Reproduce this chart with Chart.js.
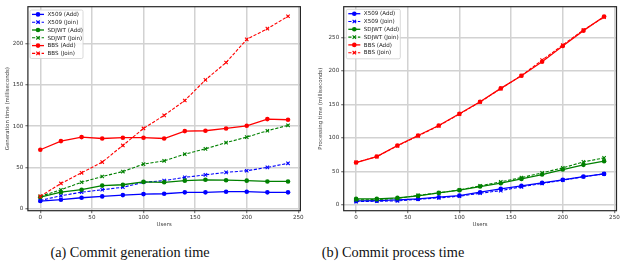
<!DOCTYPE html>
<html>
<head>
<meta charset="utf-8">
<script src="https://cdn.jsdelivr.net/npm/chart.js@4/dist/chart.umd.min.js"></script>
<style>
  html, body { margin: 0; padding: 0; background: #fff; width: 626px; height: 267px; overflow: hidden; }
  .wrap { position: absolute; top: 0; width: 313px; height: 232px; }
  .cap { position: absolute; top: 244px; font-family: "Liberation Serif", "DejaVu Serif", serif; font-size: 14.3px; color: #111; white-space: nowrap; transform: translateX(-50%); }
</style>
</head>
<body>
<div class="wrap" style="left:0"><canvas id="c1" width="313" height="232"></canvas></div>
<div class="wrap" style="left:313px"><canvas id="c2" width="313" height="232"></canvas></div>
<div class="cap" style="left:130px">(a) Commit generation time</div>
<div class="cap" style="left:393px">(b) Commit process time</div>
<script>
const users = [0, 20, 40, 60, 80, 100, 120, 140, 160, 180, 200, 220, 240];
const seriesNames = ["X509 (Add)", "X509 (Join)", "SDJWT (Add)", "SDJWT (Join)", "BBS (Add)", "BBS (Join)"];
const xTicks = [0, 50, 100, 150, 200, 250];
const genYTicks = [0, 50, 100, 150, 200];
const procYTicks = [0, 50, 100, 150, 200, 250];

// (a) Commit generation time (ms)
const genX509Add   = [9.3, 10.9, 13.3, 14.9, 16.5, 17.7, 18.1, 19.8, 19.8, 20.6, 20.6, 19.8, 19.8];
const genX509Join  = [10, 15.7, 20, 23, 26, 32, 34, 38, 41, 44, 46, 50, 55];
const genSdjwtAdd  = [14, 20, 23, 28, 29, 32.5, 32, 34, 35, 34.5, 34, 33, 33];
const genSdjwtJoin = [15, 23, 32, 39, 45, 54, 58, 66, 72.5, 80, 86.7, 94.4, 101];
const genBbsAdd    = [71.4, 81.9, 86.7, 85, 86, 86, 85, 94, 94.4, 97.2, 100.4, 108.5, 107.7];
const genBbsJoin   = [15, 30.6, 43.5, 56.5, 76.6, 97.2, 113, 131, 156, 177, 205, 218, 233];

// (b) Commit process time (ms)
const procX509Add   = [6, 6.5, 7.5, 9, 11.5, 14, 19, 24, 28.4, 32.9, 37.4, 42.3, 46.3];
const procX509Join  = [5, 5.5, 6, 8.5, 10.5, 13, 17.4, 21.4, 27, 32, 37, 42, 46.3];
const procSdjwtAdd  = [9, 9, 10.5, 13.5, 18, 22, 27.4, 32.4, 38.8, 45.3, 52.8, 59.8, 65.2];
const procSdjwtJoin = [7.5, 8, 9.5, 14.4, 18, 22.4, 28.4, 34.4, 40.8, 47.8, 55.3, 64.2, 70.2];
const procBbsAdd    = [63.2, 72.2, 88.6, 103.6, 118.5, 136, 153.9, 173.8, 192.7, 213.6, 237, 260, 281];
const procBbsJoin   = [63.5, 72, 88, 103, 118, 135.5, 153.5, 173.5, 193, 216, 238.5, 261, 280];

const FONT = "DejaVu Sans";
const colors = ["#0000ff", "#0000ff", "#008000", "#008000", "#ff0000", "#ff0000"];
const DASH = [3.2, 1.6];

function makeDatasets(arrs) {
  return arrs.map((vals, i) => {
    const join = i % 2 === 1;
    return {
      label: seriesNames[i],
      data: users.map((u, k) => ({ x: u, y: vals[k] })),
      borderColor: colors[i],
      backgroundColor: colors[i],
      borderWidth: join ? 1.1 : 1.3,
      borderDash: join ? DASH : [],
      pointStyle: join ? "crossRot" : "circle",
      pointRadius: join ? 2.4 : 2.3,
      pointBorderWidth: join ? 1.1 : 0,
      pointBackgroundColor: colors[i],
      pointBorderColor: colors[i],
      tension: 0,
      order: -i
    };
  });
}

const framePlugin = {
  id: "frame",
  afterDatasetsDraw(chart) {
    const a = chart.chartArea, ctx = chart.ctx;
    ctx.save();
    ctx.strokeStyle = "#262626";
    ctx.lineWidth = 1.2;
    ctx.strokeRect(a.left, a.top, a.right - a.left, a.bottom - a.top);
    ctx.restore();
  }
};

const mplLegend = {
  id: "mplLegend",
  afterDraw(chart, args, opts) {
    const a = chart.chartArea, ctx = chart.ctx;
    const bx = a.left + opts.dx, by = a.top + opts.dy, bw = opts.w, bh = opts.h;
    ctx.save();
    ctx.fillStyle = "rgba(255,255,255,0.85)";
    ctx.strokeStyle = "#d0d0d0";
    ctx.lineWidth = 0.8;
    ctx.beginPath();
    if (ctx.roundRect) ctx.roundRect(bx, by, bw, bh, 1.5); else ctx.rect(bx, by, bw, bh);
    ctx.fill();
    ctx.stroke();
    chart.data.datasets.forEach((ds, i) => {
      const y = by + 4.4 + i * 7.8;
      ctx.strokeStyle = ds.borderColor;
      ctx.lineWidth = ds.borderWidth;
      ctx.setLineDash(ds.borderDash);
      ctx.beginPath();
      ctx.moveTo(bx + 2, y);
      ctx.lineTo(bx + 14, y);
      ctx.stroke();
      ctx.setLineDash([]);
      ctx.fillStyle = ds.borderColor;
      ctx.strokeStyle = ds.borderColor;
      ctx.lineWidth = ds.pointBorderWidth;
      Chart.helpers.drawPoint(ctx, {
        pointStyle: ds.pointStyle, radius: ds.pointRadius, rotation: 0,
        borderWidth: ds.pointBorderWidth
      }, bx + 8, y);
      ctx.fillStyle = "#222";
      ctx.font = "5.6px '" + FONT + "'";
      ctx.textBaseline = "middle";
      ctx.textAlign = "left";
      ctx.fillText(ds.label, bx + 17.5, y + 0.3);
    });
    ctx.restore();
  }
};

function makeChart(id, arrs, yTitle, yMin, yMax, yTicks, yWidth, padRight, legendPos) {
  return new Chart(document.getElementById(id), {
    type: "line",
    data: { datasets: makeDatasets(arrs) },
    plugins: [framePlugin, mplLegend],
    options: {
      responsive: false,
      animation: false,
      events: [],
      layout: { padding: { left: 0, right: padRight, top: 6.7, bottom: 0 } },
      plugins: {
        legend: { display: false },
        tooltip: { enabled: false },
        mplLegend: legendPos
      },
      scales: {
        x: {
          type: "linear",
          min: -12, max: 252,
          afterBuildTicks(s) { s.ticks = xTicks.map(v => ({ value: v })); },
          afterFit(s) { s.height = 21.3; },
          grid: { color: "#d2d2d2", lineWidth: 1.5, drawTicks: true, tickLength: 2.5, tickColor: "#333", tickWidth: 0.8 },
          border: { display: false },
          ticks: { font: { family: FONT, size: 5.6 }, color: "#333", padding: 1, maxRotation: 0, autoSkip: false },
          title: { display: true, text: "Users", font: { family: FONT, size: 5.4 }, color: "#444", padding: { top: 0, bottom: 4.5 } }
        },
        y: {
          type: "linear",
          min: yMin, max: yMax,
          afterBuildTicks(s) { s.ticks = yTicks.map(v => ({ value: v })); },
          afterFit(s) { s.width = yWidth; },
          grid: { color: "#d2d2d2", lineWidth: 1.5, drawTicks: true, tickLength: 2.5, tickColor: "#333", tickWidth: 0.8 },
          border: { display: false },
          ticks: { font: { family: FONT, size: 5.6 }, color: "#333", padding: 2, autoSkip: false },
          title: { display: true, text: yTitle, font: { family: FONT, size: 5.4 }, color: "#444", padding: { top: 4, bottom: 0 } }
        }
      }
    }
  });
}

makeChart("c1", [genX509Add, genX509Join, genSdjwtAdd, genSdjwtJoin, genBbsAdd, genBbsJoin],
  "Generation time (milliseconds)", -2.4, 244.6, genYTicks, 27.9, 12.6,
  { dx: 2.1, dy: 3.3, w: 53, h: 48.5 });
makeChart("c2", [procX509Add, procX509Join, procSdjwtAdd, procSdjwtJoin, procBbsAdd, procBbsJoin],
  "Processing time (milliseconds)", -8.6, 295.7, procYTicks, 30.7, 9.5,
  { dx: 2.6, dy: 2.6, w: 54, h: 49.5 });
</script>
</body>
</html>
